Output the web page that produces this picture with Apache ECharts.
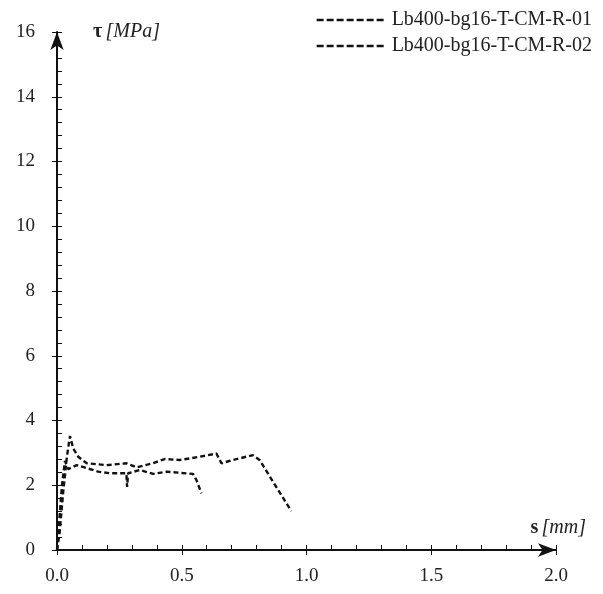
<!DOCTYPE html>
<html><head><meta charset="utf-8">
<script src="https://cdn.jsdelivr.net/npm/echarts@6/dist/echarts.min.js"></script>
<style>html,body{margin:0;padding:0;background:#fff}#c{width:603px;height:594px}</style>
</head><body><div id="c"></div>
<script>
const seriesNames = ['Lb400-bg16-T-CM-R-01', 'Lb400-bg16-T-CM-R-02'];
const r01 = [[0,0],[0.01,0.5],[0.025,1.8],[0.04,2.9],[0.052,3.52],[0.065,3.14],[0.085,2.88],[0.119,2.68],[0.199,2.62],[0.279,2.68],[0.319,2.55],[0.385,2.68],[0.432,2.81],[0.492,2.78],[0.572,2.88],[0.639,2.98],[0.659,2.68],[0.705,2.78],[0.785,2.93],[0.812,2.78],[0.939,1.20]];
const r02 = [[0,0],[0.006,0.6],[0.02,2.0],[0.032,2.75],[0.045,2.5],[0.052,2.47],[0.079,2.62],[0.11,2.55],[0.165,2.42],[0.212,2.37],[0.278,2.37],[0.281,1.95],[0.285,2.37],[0.332,2.47],[0.385,2.35],[0.439,2.42],[0.545,2.35],[0.559,2.16],[0.579,1.75]];
const xTicks = {min:0, max:2, interval:0.5};
const yTicks = {min:0, max:16, interval:2};

const font = 'Liberation Serif';
const chart = echarts.init(document.getElementById('c'));
const lineStyle = {color:'#111', width:2.4, type:[5,3]};
const baseX = {type:'value', min:xTicks.min, max:xTicks.max, interval:xTicks.interval, splitLine:{show:false}};
const baseY = {type:'value', min:yTicks.min, max:yTicks.max, interval:yTicks.interval, splitLine:{show:false}};
const rich = {b:{fontFamily:font,fontSize:20,fontWeight:'bold',color:'#222'},i:{fontFamily:font,fontSize:20,fontStyle:'italic',color:'#222'}};
let dashPath = 'path://';
for (let k = 0; k < 7; k++) dashPath += 'M' + (k*10) + ',0h7v1h-7z';
chart.setOption({
  animation:false,
  grid:{left:57, right:47, top:32, bottom:44, containLabel:false},
  legend:{
    top:5, right:6, orient:'vertical', itemGap:6, itemWidth:67, itemHeight:2.5, icon:dashPath, symbolKeepAspect:false,
    itemStyle:{color:'#111'},
    textStyle:{fontFamily:font, fontSize:20, color:'#222', padding:[0,0,0,3]},
    data:seriesNames
  },
  xAxis:[
    Object.assign({}, baseX, {
      axisLine:{lineStyle:{color:'#111', width:2}, symbol:['none','arrow'], symbolSize:[10,18]},
      axisTick:{show:true, inside:true, length:5, lineStyle:{color:'#111'}},
      minorTick:{show:true, splitNumber:5, length:5, lineStyle:{color:'#111'}},
      axisLabel:{fontFamily:font, fontSize:19, color:'#222', margin:17, formatter:v=>v.toFixed(1)},
      name:'{b|s} {i|[mm]}', nameLocation:'end', nameGap:0,
      nameTextStyle:{align:'right', verticalAlign:'bottom', padding:[0,-30,12,0], rich:rich}
    }),
    Object.assign({}, baseX, {
      position:'bottom', axisLine:{show:false}, axisLabel:{show:false},
      axisTick:{show:true, inside:false, length:5, lineStyle:{color:'#111'}}
    })
  ],
  yAxis:[
    Object.assign({}, baseY, {
      axisLine:{lineStyle:{color:'#111', width:2}, symbol:['none','arrow'], symbolSize:[10,18]},
      axisTick:{show:true, inside:true, length:5, lineStyle:{color:'#111'}},
      minorTick:{show:true, splitNumber:5, length:5, lineStyle:{color:'#111'}},
      axisLabel:{fontFamily:font, fontSize:19, color:'#222', margin:22},
      name:'{b|τ} {i|[MPa]}', nameLocation:'end', nameGap:0,
      nameTextStyle:{align:'left', verticalAlign:'middle', padding:[0,0,0,36], rich:rich}
    }),
    Object.assign({}, baseY, {
      position:'left', axisLine:{show:false}, axisLabel:{show:false},
      axisTick:{show:true, inside:false, length:5, lineStyle:{color:'#111'}}
    })
  ],
  series:[
    {name:seriesNames[0], type:'line', data:r01, showSymbol:false, symbol:'none', lineStyle:lineStyle, itemStyle:{color:'#111'}},
    {name:seriesNames[1], type:'line', data:r02, showSymbol:false, symbol:'none', lineStyle:lineStyle, itemStyle:{color:'#111'}}
  ]
});
</script></body></html>
